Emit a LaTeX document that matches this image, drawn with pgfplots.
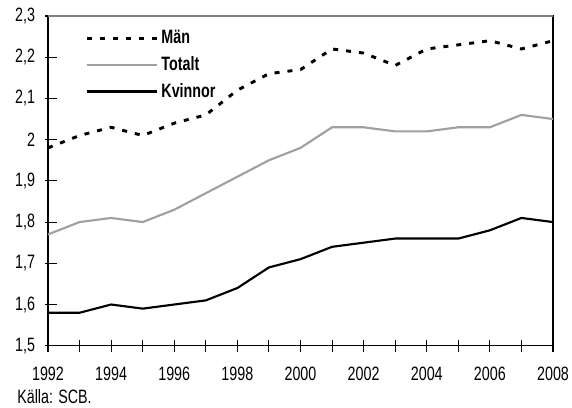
\documentclass[border=0pt]{standalone}
\usepackage{fontspec}
\setmainfont{Liberation Sans}[FakeStretch=0.74]
\usepackage{pgfplots}
\pgfplotsset{compat=1.18}
\definecolor{totgray}{RGB}{160,160,160}
\definecolor{topgray}{RGB}{128,128,128}
\begin{document}
\fontsize{14.5}{17}\selectfont
\begin{tikzpicture}
\begin{axis}[
  scale only axis,
  width=378.75pt, height=247.3pt,
  xmin=1992, xmax=2008, ymin=1.5, ymax=2.3,
  clip=false,
  axis line style={black, line width=1pt},
  /pgf/number format/assume math mode=true,
  xtick pos=bottom, ytick pos=left,
  xtick={1992,1994,...,2008},
  minor xtick={1993,1995,...,2007},
  xticklabel style={/pgf/number format/1000 sep={}, inner sep=0pt, yshift=-11pt},
  ytick={1.5,1.6,...,2.31},
  yticklabels={{1,5},{1,6},{1,7},{1,8},{1,9},{2},{2,1},{2,2},{2,3}},
  yticklabel style={anchor=east, inner sep=0pt, xshift=-5pt},
  tick align=center,
  major tick length=9pt, minor tick length=9pt,
  tick style={black, line width=0.8pt},
  ytick style={xshift=2.2pt},
  legend style={draw=none, fill=none, at={(axis description cs:0.066,0.975)}, anchor=north west,
    font=\bfseries, row sep=3pt, nodes={inner sep=2.2pt}},
  legend cell align=left,
  legend image code/.code={\draw[#1] (0pt,0pt) -- (52.5pt,0pt);},
]
\addplot[black, line width=2.2pt, dash pattern=on 3.75pt off 6pt] coordinates {
(1992,1.98)(1993,2.01)(1994,2.03)(1995,2.01)(1996,2.04)(1997,2.06)(1998,2.12)(1999,2.16)(2000,2.17)(2001,2.22)(2002,2.21)(2003,2.18)(2004,2.22)(2005,2.23)(2006,2.24)(2007,2.22)(2008,2.24)};
\addlegendentry{Män}
\addplot[totgray, line width=1.6pt] coordinates {
(1992,1.77)(1993,1.80)(1994,1.81)(1995,1.80)(1996,1.83)(1997,1.87)(1998,1.91)(1999,1.95)(2000,1.98)(2001,2.03)(2002,2.03)(2003,2.02)(2004,2.02)(2005,2.03)(2006,2.03)(2007,2.06)(2008,2.05)};
\addlegendentry{Totalt}
\addplot[black, line width=1.6pt] coordinates {
(1992,1.58)(1993,1.58)(1994,1.60)(1995,1.59)(1996,1.60)(1997,1.61)(1998,1.64)(1999,1.69)(2000,1.71)(2001,1.74)(2002,1.75)(2003,1.76)(2004,1.76)(2005,1.76)(2006,1.78)(2007,1.81)(2008,1.80)};
\addlegendentry{Kvinnor}
\draw[topgray, line width=1.2pt] (rel axis cs:0,1) -- (rel axis cs:1,1);
\node[anchor=west, inner sep=0pt] at (axis description cs:-0.0614,-0.1547) {Källa: SCB.};
\path (axis description cs:-0.09505,-0.1859) rectangle (axis description cs:1.03762,1.04853);
\end{axis}
\end{tikzpicture}
\end{document}
